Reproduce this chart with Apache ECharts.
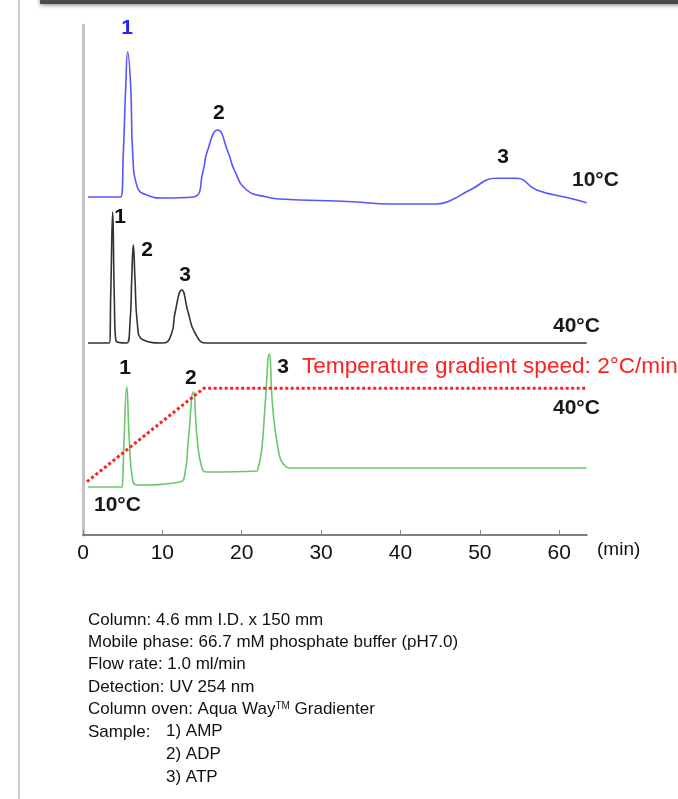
<!DOCTYPE html>
<html>
<head>
<meta charset="utf-8">
<script src="https://cdn.jsdelivr.net/npm/echarts@6/dist/echarts.min.js"></script>
<style>
  html, body { margin: 0; padding: 0; background: #fff; }
  #chart { width: 678px; height: 799px; }
</style>
</head>
<body>
<div id="chart"></div>
<script>
// retention time (min) / detector signal, one pair of arrays per run
var blueTime = [0.63, 4.75, 5.08, 5.38, 5.63, 6.01, 6.26, 6.84, 8.03, 10.12, 13.9, 15.16, 15.59, 16.97,
  18.31, 19.06, 20.62, 23.15, 24.82, 34.02, 38.68, 44.56, 46.24, 48.76, 52.12, 54.64, 57.16, 61.36, 63.46];
var blueSignal = [0, 0, 44, 110, 145, 110, 44, 10, 2, -1, 0, 27, 44, 67,
  44, 27, 7, 0, -2, -4.7, -7, -7, -3.7, 7, 18.7, 18.7, 7, -1.3, -5.7];

var blackTime = [0.63, 3.31, 3.49, 3.74, 3.94, 4.16, 5.51, 5.92, 6.14, 6.34, 6.55, 6.84, 7.6, 10.12,
  11.18, 11.59, 12.44, 13.27, 14.11, 15.59, 63.46];
var blackSignal = [0, 0, 47, 131, 47, 2, 0, 20, 64, 98, 64, 20, 3, 0,
  10, 30, 53, 30, 10, 0, 0];

var greenTime = [0.63, 4.88, 5.0, 5.17, 5.51, 5.83, 6.26, 6.77, 12.22, 12.85, 13.27, 13.9, 14.4, 14.96,
  15.59, 21.89, 22.09, 22.51, 22.93, 23.47, 23.9, 24.61, 25.24, 26.5, 63.46];
var greenSignal = [0, 0, 7, 47, 100, 47, 7, 2, 5, 14, 47, 95, 47, 20,
  15, 16, 20, 37, 80, 133, 80, 37, 23, 19, 19];

// column temperature program (deg C)
var tempTime = [0.5, 15.2, 63.5];
var tempValue = [10, 40, 40];

var xTicks = [0, 10, 20, 30, 40, 50, 60];

// peak numbers: [time, signal, name]
var bluePeaks = [[5.54, 169, '1'], [17.13, 84, '2'], [52.92, 40, '3']];
var blackPeaks = [[4.66, 126, '1'], [8.06, 93, '2'], [12.85, 68, '3']];
var greenPeaks = [[5.29, 119, '1'], [13.6, 109, '2'], [25.2, 120, '3']];

var notes = [
  'Column: 4.6 mm I.D. x 150 mm',
  'Mobile phase: 66.7 mM phosphate buffer (pH7.0)',
  'Flow rate: 1.0 ml/min',
  'Detection: UV 254 nm',
  'Column oven: Aqua Way{sup|TM} Gradienter',
  'Sample:'
];
var samples = ['1) AMP', '2) ADP', '3) ATP'];

function pairs(t, v) {
  return t.map(function (x, i) { return [x, v[i]]; });
}

var font = '"Liberation Sans", Arial, sans-serif';
var chart = echarts.init(document.getElementById('chart'));

function traceAxis(min, max) {
  return { type: 'value', min: min, max: max, show: false, splitLine: { show: false } };
}

function trace(time, signal, color, axis) {
  return {
    type: 'line', yAxisIndex: axis, data: pairs(time, signal),
    smooth: 0.5, symbol: 'none',
    lineStyle: { color: color, width: 1.6 }
  };
}

function peakLabels(list, axis) {
  return {
    type: 'scatter', yAxisIndex: axis, symbolSize: 0,
    // first peak number of the 10 deg C run is printed in blue
    data: list.map(function (d, i) {
      return { value: d, label: { color: axis === 0 && i === 0 ? '#2222ff' : '#111' } };
    }),
    label: {
      show: true, position: 'inside', fontFamily: font, fontSize: 21, fontWeight: 'bold',
      formatter: function (p) { return p.value[2]; }
    },
    itemStyle: { color: '#111', opacity: 1 }
  };
}

function txt(x, y, s, color, size, weight) {
  return {
    type: 'text', x: x, y: y, silent: true,
    style: { text: s, fill: color, font: (weight || 'normal') + ' ' + size + 'px ' + font, verticalAlign: 'middle' }
  };
}

var graphics = [
  { type: 'rect', silent: true, shape: { x: 40, y: -4, width: 700, height: 8 },
    style: { fill: '#4a4a4a', shadowBlur: 4, shadowColor: 'rgba(0,0,0,0.5)', shadowOffsetY: 1 } },
  { type: 'rect', silent: true, shape: { x: 18, y: 0, width: 2, height: 799 }, style: { fill: '#cfcfcf' } },
  txt(572, 180, '10°C', '#1a1a1a', 21, 'bold'),
  txt(553, 326, '40°C', '#1a1a1a', 21, 'bold'),
  txt(553, 408, '40°C', '#1a1a1a', 21, 'bold'),
  txt(94, 505, '10°C', '#1a1a1a', 21, 'bold'),
  txt(302, 367, 'Temperature gradient speed: 2°C/min', '#ff2020', 22.6)
];
notes.forEach(function (s, i) {
  graphics.push({
    type: 'text', x: 88, y: 620 + i * 22.4, silent: true,
    style: {
      text: s, fill: '#111', font: '17px ' + font, verticalAlign: 'middle',
      rich: { sup: { fontSize: 10, fontFamily: font, verticalAlign: 'top', fill: '#111' } }
    }
  });
});
samples.forEach(function (s, i) {
  graphics.push(txt(166, 731.6 + i * 22.9, s, '#111', 17));
});

chart.setOption({
  animation: false,
  backgroundColor: '#fff',
  grid: { left: 83, right: 91, top: 25, bottom: 264 },
  xAxis: {
    type: 'value', min: 0, max: 63.5,
    name: '(min)', nameLocation: 'end', nameGap: 10,
    nameTextStyle: { fontFamily: font, fontSize: 19, color: '#111', verticalAlign: 'top', padding: [5, 0, 0, 0] },
    axisLine: { onZero: false, lineStyle: { color: '#555', width: 1.5 } },
    axisTick: { inside: true, length: 5, customValues: xTicks, lineStyle: { color: '#888' } },
    axisLabel: { customValues: xTicks, margin: 8, fontFamily: font, fontSize: 21, color: '#111' },
    splitLine: { show: false }
  },
  yAxis: [
    {
      type: 'value', min: -338, max: 172,
      axisLine: { show: true, onZero: false, lineStyle: { color: '#c4c4c4', width: 3 } },
      axisTick: { show: false }, axisLabel: { show: false }, splitLine: { show: false }
    },
    traceAxis(-192, 318),
    traceAxis(-48, 462),
    traceAxis(-7.12, 156.7)
  ],
  series: [
    trace(blueTime, blueSignal, '#5555ff', 0),
    trace(blackTime, blackSignal, '#333', 1),
    trace(greenTime, greenSignal, '#6cc66c', 2),
    {
      type: 'line', yAxisIndex: 3, data: pairs(tempTime, tempValue), symbol: 'none',
      lineStyle: { color: '#ff2020', width: 3, type: [3, 2.5] }
    },
    peakLabels(bluePeaks, 0),
    peakLabels(blackPeaks, 1),
    peakLabels(greenPeaks, 2)
  ],
  graphic: graphics
});
</script>
</body>
</html>
